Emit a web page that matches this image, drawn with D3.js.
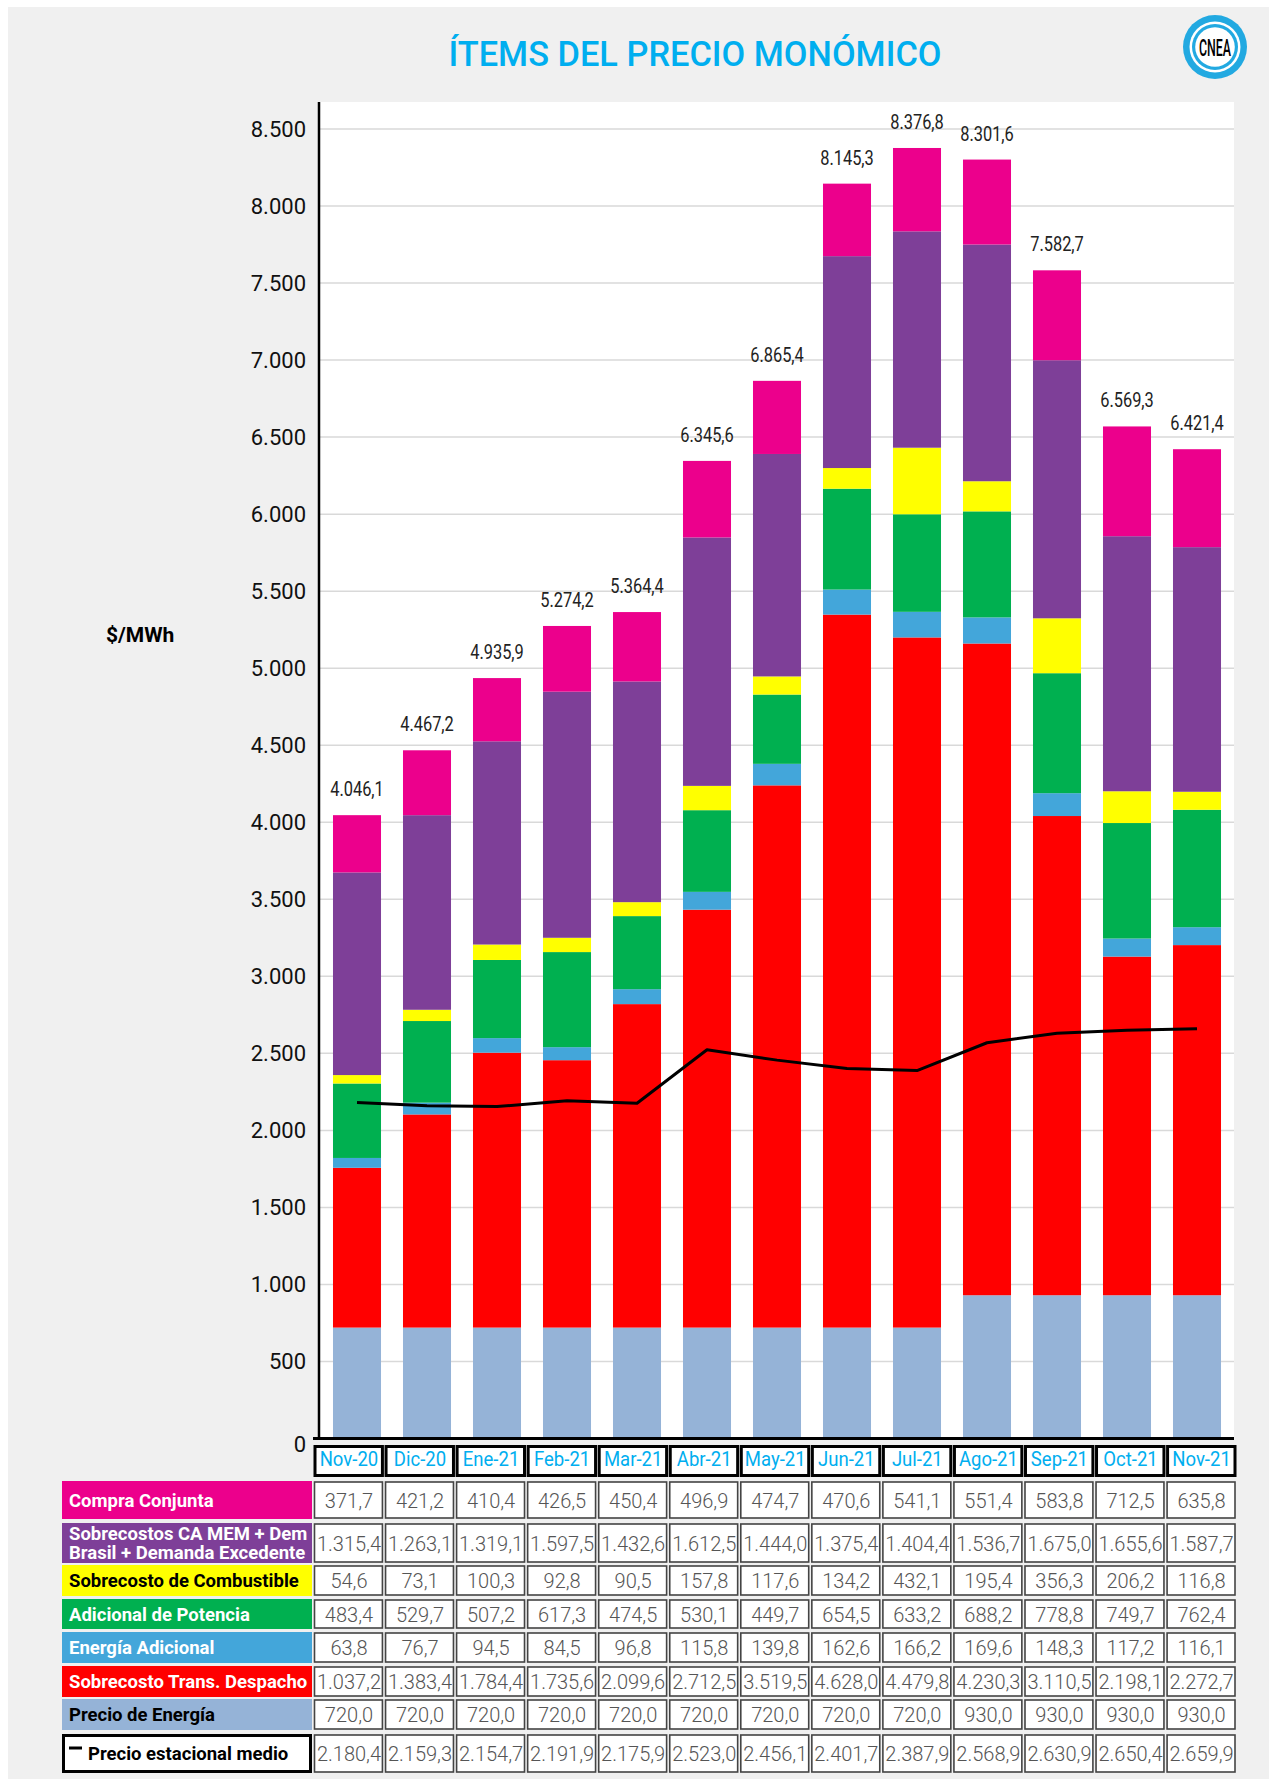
<!DOCTYPE html>
<html>
<head>
<meta charset="utf-8">
<script src="https://cdn.jsdelivr.net/npm/d3@7"></script>
<style>
  body { margin: 0; background: #fff; }
  svg { display: block; font-family: Roboto, "Noto Sans", sans-serif; }
</style>
</head>
<body>
<svg id="chart" width="1269" height="1779"></svg>
<script>
const months = ["Nov-20", "Dic-20", "Ene-21", "Feb-21", "Mar-21", "Abr-21", "May-21",
                "Jun-21", "Jul-21", "Ago-21", "Sep-21", "Oct-21", "Nov-21"];
const compraConjunta   = [371.7, 421.2, 410.4, 426.5, 450.4, 496.9, 474.7, 470.6, 541.1, 551.4, 583.8, 712.5, 635.8];
const sobrecostosCA    = [1315.4, 1263.1, 1319.1, 1597.5, 1432.6, 1612.5, 1444.0, 1375.4, 1404.4, 1536.7, 1675.0, 1655.6, 1587.7];
const combustible      = [54.6, 73.1, 100.3, 92.8, 90.5, 157.8, 117.6, 134.2, 432.1, 195.4, 356.3, 206.2, 116.8];
const potencia         = [483.4, 529.7, 507.2, 617.3, 474.5, 530.1, 449.7, 654.5, 633.2, 688.2, 778.8, 749.7, 762.4];
const energiaAdicional = [63.8, 76.7, 94.5, 84.5, 96.8, 115.8, 139.8, 162.6, 166.2, 169.6, 148.3, 117.2, 116.1];
const transDespacho    = [1037.2, 1383.4, 1784.4, 1735.6, 2099.6, 2712.5, 3519.5, 4628.0, 4479.8, 4230.3, 3110.5, 2198.1, 2272.7];
const precioEnergia    = [720.0, 720.0, 720.0, 720.0, 720.0, 720.0, 720.0, 720.0, 720.0, 930.0, 930.0, 930.0, 930.0];
const precioEstacional = [2180.4, 2159.3, 2154.7, 2191.9, 2175.9, 2523.0, 2456.1, 2401.7, 2387.9, 2568.9, 2630.9, 2650.4, 2659.9];
const totals           = [4046.1, 4467.2, 4935.9, 5274.2, 5364.4, 6345.6, 6865.4, 8145.3, 8376.8, 8301.6, 7582.7, 6569.3, 6421.4];
const yTicks = d3.range(0, 8501, 500);

// series, bottom of the stack first
const series = [
  {key: "energia",    label: ["Precio de Energía"], color: "#95B3D7", text: "#000", values: precioEnergia},
  {key: "despacho",   label: ["Sobrecosto Trans. Despacho"], color: "#FF0000", text: "#fff", values: transDespacho},
  {key: "adicional",  label: ["Energía Adicional"], color: "#43A6DA", text: "#fff", values: energiaAdicional},
  {key: "potencia",   label: ["Adicional de Potencia"], color: "#00B050", text: "#fff", values: potencia},
  {key: "combust",    label: ["Sobrecosto de Combustible"], color: "#FFFF00", text: "#000", values: combustible},
  {key: "sobrecosto", label: ["Sobrecostos CA MEM + Dem", "Brasil + Demanda Excedente"], color: "#7E3F98", text: "#fff", values: sobrecostosCA},
  {key: "compra",     label: ["Compra Conjunta"], color: "#EC008C", text: "#fff", values: compraConjunta}
];

const es = d3.formatLocale({decimal: ",", thousands: ".", grouping: [3], currency: ["$", ""]});
const fmtInt = es.format(",d");
const fmt1 = es.format(",.1f");

const svg = d3.select("#chart");

// squeeze text horizontally so it looks like the condensed font of the original
function squeeze(sel, factor) {
  sel.each(function() {
    let w = this.getComputedTextLength();
    d3.select(this).attr("textLength", w * factor).attr("lengthAdjust", "spacingAndGlyphs");
  });
}

// page background
svg.append("rect").attr("x", 8).attr("y", 7).attr("width", 1261).attr("height", 1772).attr("fill", "#f0f0f0");

// title
svg.append("text")
  .attr("x", 695).attr("y", 66)
  .attr("text-anchor", "middle")
  .attr("font-size", 35).attr("font-weight", 500)
  .attr("fill", "#00AEEF")
  .attr("textLength", 493).attr("lengthAdjust", "spacingAndGlyphs")
  .text("ÍTEMS DEL PRECIO MONÓMICO");

// logo
let logo = svg.append("g").attr("transform", "translate(1215,47)");
logo.append("circle").attr("r", 32).attr("fill", "#22A9E1");
logo.append("circle").attr("r", 25.5).attr("fill", "#fff");
logo.append("circle").attr("r", 23).attr("fill", "#22A9E1");
logo.append("circle").attr("r", 19.8).attr("fill", "#fff");
logo.append("text").attr("x", -16).attr("y", 9)
  .attr("font-size", 24).attr("font-weight", 500).attr("fill", "#000")
  .attr("textLength", 32).attr("lengthAdjust", "spacingAndGlyphs")
  .text("CNEA");

// ---- plot ----
const plotLeft = 319, plotRight = 1234, plotTop = 102, plotBottom = 1438.5;

const x = d3.scaleBand()
  .domain(months)
  .range([322, 1232])
  .paddingInner(0.314)
  .paddingOuter(0.157);

const y = d3.scaleLinear()
  .domain([0, 8500])
  .range([plotBottom, 129]);

svg.append("rect")
  .attr("x", plotLeft).attr("y", plotTop)
  .attr("width", plotRight - plotLeft).attr("height", plotBottom - plotTop)
  .attr("fill", "#fff");

// gridlines
svg.append("g").selectAll("line")
  .data(yTicks.filter(d => d > 0))
  .enter().append("line")
  .attr("x1", plotLeft).attr("x2", plotRight)
  .attr("y1", d => y(d)).attr("y2", d => y(d))
  .attr("stroke", "#d9d9d9").attr("stroke-width", 1.5);

// y axis labels
let yAxis = d3.axisLeft(y).tickValues(yTicks).tickSize(0).tickPadding(13).tickFormat(fmtInt);
svg.append("g")
  .attr("transform", `translate(${plotLeft},0)`)
  .call(yAxis)
  .call(g => g.select(".domain").remove())
  .selectAll("text")
  .attr("font-size", 22)
  .attr("font-family", "Roboto")
  .attr("fill", "#111")
  .attr("y", d => d === 0 ? 6 : 0);

svg.append("text")
  .attr("x", 106).attr("y", 642)
  .attr("font-size", 21).attr("font-weight", 700)
  .attr("fill", "#000")
  .text("$/MWh");

// stacked bars
let rows = months.map((m, i) => {
  let r = {month: m};
  series.forEach(s => r[s.key] = s.values[i]);
  return r;
});
let stack = d3.stack().keys(series.map(s => s.key));
let stacked = stack(rows);

let layers = svg.append("g").selectAll("g")
  .data(stacked)
  .enter().append("g")
  .attr("fill", (d, i) => series[i].color);

layers.selectAll("rect")
  .data(d => d)
  .enter().append("rect")
  .attr("x", d => x(d.data.month))
  .attr("width", x.bandwidth())
  .attr("y", d => y(d[1]))
  .attr("height", d => y(d[0]) - y(d[1]));

// totals above bars
svg.append("g").selectAll("text")
  .data(months)
  .enter().append("text")
  .attr("x", d => x(d) + x.bandwidth() / 2)
  .attr("y", (d, i) => y(totals[i]) - 19)
  .attr("text-anchor", "middle")
  .attr("font-size", 20.5)
  .attr("fill", "#222")
  .text((d, i) => fmt1(totals[i]))
  .call(squeeze, 0.8);

// axes lines
svg.append("line")
  .attr("x1", plotLeft).attr("x2", plotLeft)
  .attr("y1", plotTop).attr("y2", plotBottom)
  .attr("stroke", "#000").attr("stroke-width", 2.5);
svg.append("line")
  .attr("x1", 313).attr("x2", plotRight)
  .attr("y1", plotBottom).attr("y2", plotBottom)
  .attr("stroke", "#000").attr("stroke-width", 3);

// seasonal price line
let line = d3.line()
  .x((d, i) => x(months[i]) + x.bandwidth() / 2)
  .y(d => y(d));
svg.append("path")
  .datum(precioEstacional)
  .attr("d", line)
  .attr("fill", "none")
  .attr("stroke", "#000")
  .attr("stroke-width", 3)
  .attr("stroke-linejoin", "round");

// ---- table ----
const tx = d3.scaleBand()
  .domain(months)
  .range([313.5, 1235])
  .paddingInner(0.03);

const labelX0 = 62, labelX1 = 312;
// header
let header = svg.append("g");
header.selectAll("rect")
  .data(months)
  .enter().append("rect")
  .attr("x", d => tx(d) + 1.5)
  .attr("y", 1446.5)
  .attr("width", tx.bandwidth() - 1.5)
  .attr("height", 29)
  .attr("fill", "#fff")
  .attr("stroke", "#000")
  .attr("stroke-width", 3);
header.selectAll("text")
  .data(months)
  .enter().append("text")
  .attr("x", d => tx(d) + tx.bandwidth() / 2 + 1)
  .attr("y", 1466)
  .attr("text-anchor", "middle")
  .attr("font-size", 19.5)
  .attr("fill", "#00AEEF")
  .text(d => d)
  .call(squeeze, 0.95);

const rowTop = [1481, 1523, 1565, 1599, 1632, 1666, 1699, 1734];
const rowH   = [38, 40, 31, 30, 31, 31, 31, 39];

// table rows top to bottom: reversed stack, then the seasonal price
let tableRows = series.slice().reverse().map(s => ({label: s.label, color: s.color, text: s.text, values: s.values}));
tableRows.push({label: ["Precio estacional medio"], color: "#fff", text: "#000", values: precioEstacional, isLine: true});

tableRows.forEach((r, ri) => {
  let g = svg.append("g");
  let top = rowTop[ri], h = rowH[ri];

  // label cell
  g.append("rect")
    .attr("x", r.isLine ? labelX0 + 1.5 : labelX0)
    .attr("y", r.isLine ? top + 1.5 : top)
    .attr("width", r.isLine ? labelX1 - labelX0 - 3 : labelX1 - labelX0)
    .attr("height", r.isLine ? h - 3 : h)
    .attr("fill", r.color)
    .attr("stroke", r.isLine ? "#000" : "none")
    .attr("stroke-width", 3);

  let tx0 = 69;
  if (r.isLine) {
    g.append("line")
      .attr("x1", 69).attr("x2", 82)
      .attr("y1", top + 14).attr("y2", top + 14)
      .attr("stroke", "#000").attr("stroke-width", 3);
    tx0 = 88;
  }
  let lines = r.label;
  let cy = top + h / 2;
  lines.forEach((t, li) => {
    let ty = lines.length === 1 ? cy + 6.5 : cy - 3.5 + li * 19.5;
    g.append("text")
      .attr("x", tx0).attr("y", ty)
      .attr("font-size", 18.5).attr("font-weight", 700)
      .attr("fill", r.text)
      .text(t)
      .each(function() {
        let w = this.getComputedTextLength();
        let maxW = labelX1 - tx0 - 4;
        if (w > maxW) d3.select(this).attr("textLength", maxW).attr("lengthAdjust", "spacingAndGlyphs");
      });
  });

  // value cells
  g.selectAll("rect.cell")
    .data(r.values)
    .enter().append("rect")
    .attr("class", "cell")
    .attr("x", (d, i) => tx(months[i]) + 1)
    .attr("y", top + 1)
    .attr("width", tx.bandwidth() - 1)
    .attr("height", h - 2)
    .attr("fill", "#fff")
    .attr("stroke", "#444")
    .attr("stroke-width", 1.6);
  g.selectAll("text.val")
    .data(r.values)
    .enter().append("text")
    .attr("class", "val")
    .attr("x", (d, i) => tx(months[i]) + tx.bandwidth() / 2 + 1)
    .attr("y", cy + 7.5)
    .attr("text-anchor", "middle")
    .attr("font-size", 20).attr("font-weight", 300)
    .attr("fill", "#555")
    .text(d => fmt1(d))
    .each(function() {
      let w = this.getComputedTextLength();
      let maxW = tx.bandwidth() - 4;
      if (w > maxW) d3.select(this).attr("textLength", maxW).attr("lengthAdjust", "spacingAndGlyphs");
    });
});
</script>
</body>
</html>
